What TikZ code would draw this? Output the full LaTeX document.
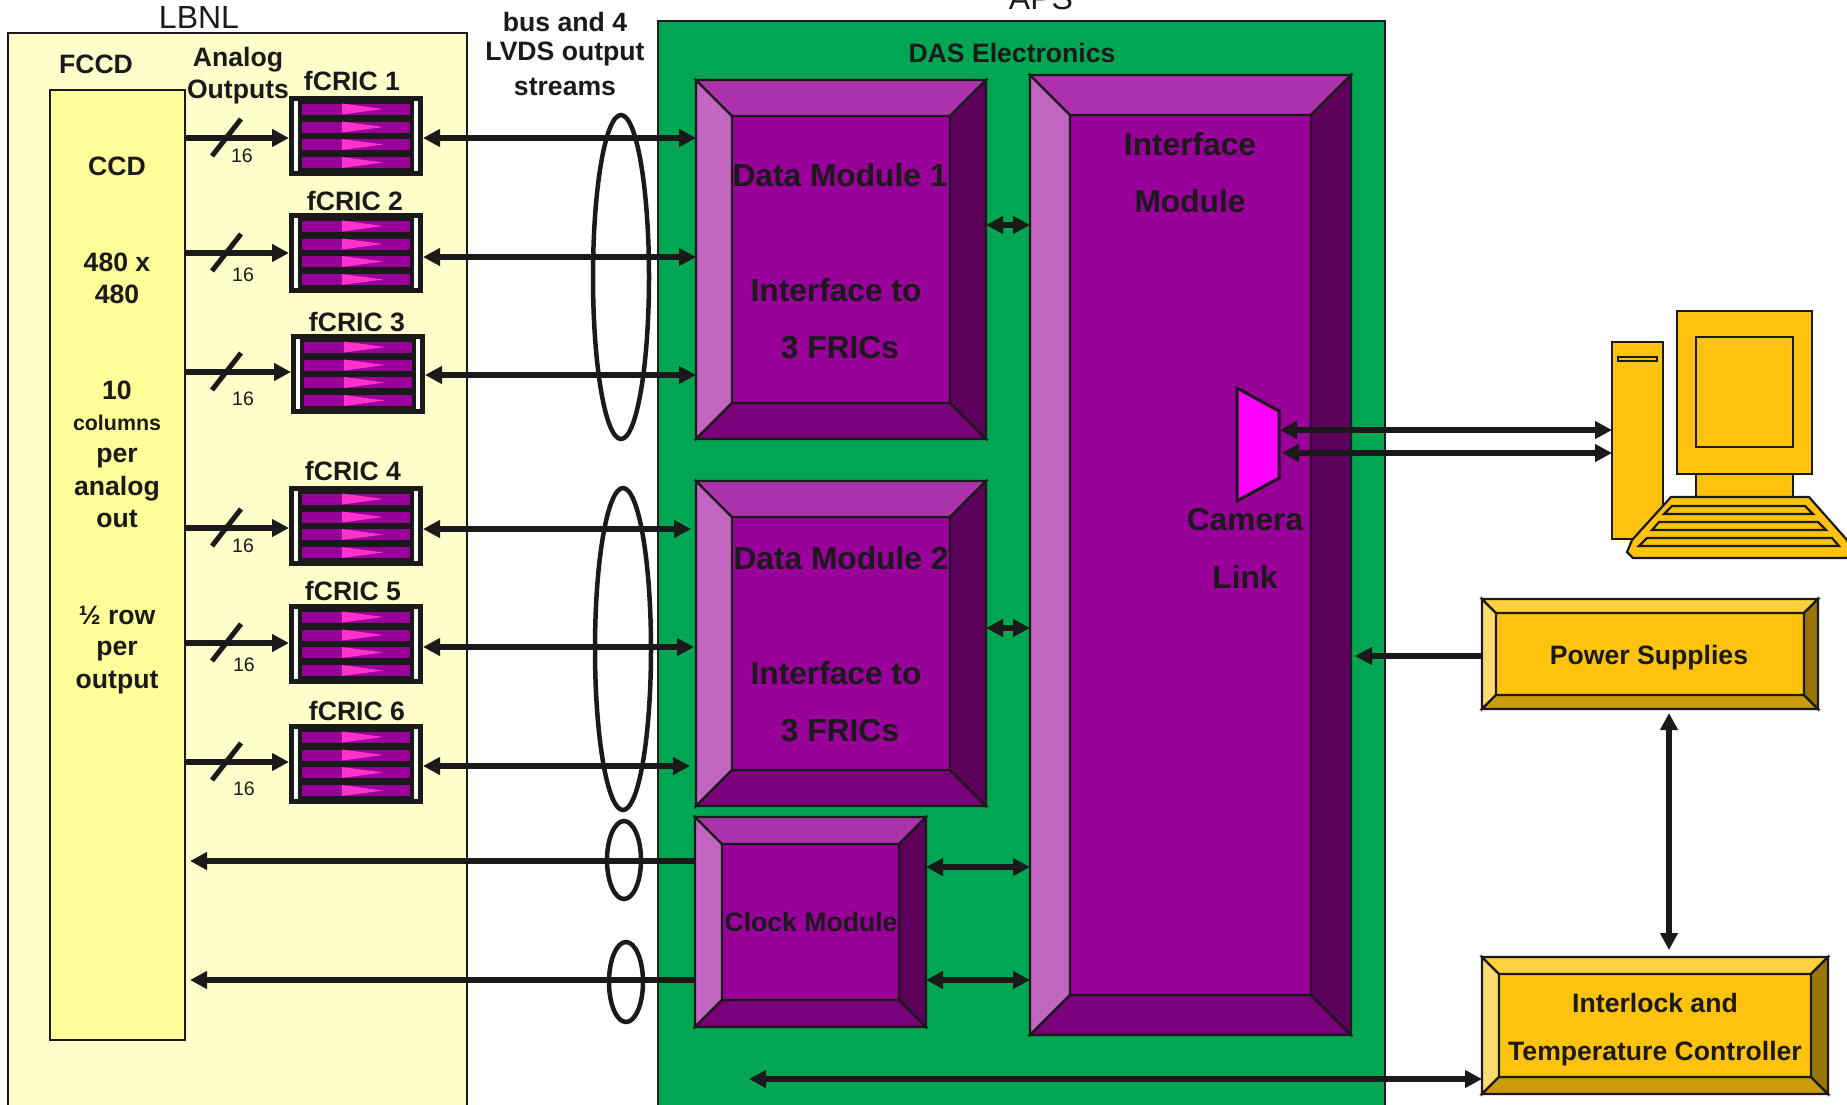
\documentclass[tikz,border=0pt]{standalone}
\usepackage{fontspec}
\setmainfont{Liberation Sans}
\usetikzlibrary{arrows.meta,positioning,shapes.geometric}
\definecolor{tinta}{HTML}{1A1A1A}
\definecolor{creme}{HTML}{FFFFCC}
\definecolor{amarelo}{HTML}{FFFF99}
\definecolor{verde}{HTML}{00A651}
\definecolor{purC}{HTML}{990099}
\definecolor{purL}{HTML}{C266C2}
\definecolor{purT}{HTML}{AD33AD}
\definecolor{purB}{HTML}{7A007A}
\definecolor{purR}{HTML}{5C005C}
\definecolor{ourC}{HTML}{FFC20E}
\definecolor{ourL}{HTML}{FFDA6E}
\definecolor{ourT}{HTML}{FFD040}
\definecolor{ourB}{HTML}{CC9B0B}
\definecolor{ourR}{HTML}{997408}
\definecolor{rosa}{HTML}{FF33CC}
\definecolor{camrosa}{HTML}{FF00FF}
\tikzset{
  lbl/.style={font=\fontsize{26.6pt}{28pt}\selectfont\bfseries, text=tinta, inner sep=0pt},
  lblbig/.style={font=\fontsize{31.7pt}{33pt}\selectfont\bfseries, text=tinta, inner sep=0pt},
  lblsmall/.style={font=\fontsize{21.4pt}{23pt}\selectfont\bfseries, text=tinta, inner sep=0pt},
  title/.style={font=\fontsize{32pt}{34pt}\selectfont, text=tinta, inner sep=0pt},
  wcount/.style={font=\fontsize{19.5pt}{21pt}\selectfont, text=tinta, inner sep=0pt},
  edge/.style={draw=tinta, line width=2.2pt, line join=miter},
  sq/.style={edge, rectangle, inner sep=0pt, outer sep=0pt},
  arr/.style={-{Triangle[length=17pt,width=17pt]}, line width=5.5pt, tinta},
  biarr/.style={{Triangle[length=17pt,width=17pt]}-{Triangle[length=17pt,width=17pt]}, line width=5.5pt, tinta},
  slash/.style={line width=5pt, tinta},
  loopb/.style={line width=4.5pt, tinta}
}
% box from its corners: options, name, x0, y0, x1, y1
\newcommand{\sqbox}[6]{
  \node[sq, #1, minimum width={(#5-#3)*1pt}, minimum height={(#6-#4)*1pt}] (#2) at ({(#3+#5)/2},{(#4+#6)/2}) {};
}
% bevelled block: colour prefix, name, x0, y0, x1, y1, depth
\newcommand{\bevel}[7]{
  \sqbox{fill=#1C}{#2}{#3}{#4}{#5}{#6}
  \draw[edge, fill=#1L] (#3,#4) -- ({#3+#7},{#4+#7}) -- ({#3+#7},{#6-#7}) -- (#3,#6) -- cycle;
  \draw[edge, fill=#1T] (#3,#4) -- (#5,#4) -- ({#5-#7},{#4+#7}) -- ({#3+#7},{#4+#7}) -- cycle;
  \draw[edge, fill=#1B] (#3,#6) -- (#5,#6) -- ({#5-#7},{#6-#7}) -- ({#3+#7},{#6-#7}) -- cycle;
  \draw[edge, fill=#1R] (#5,#4) -- (#5,#6) -- ({#5-#7},{#6-#7}) -- ({#5-#7},{#4+#7}) -- cycle;
}
% readout chip: name, x0, y0
\newcommand{\fcric}[3]{
  \node[rectangle, fill=tinta, inner sep=0pt, outer sep=0pt, minimum width=134pt, minimum height=80pt] (#1) at ({#2+67},{#3+40}) {};
  \fill[white] ({#2+4.7},{#3+4.5}) rectangle ({#2+9},{#3+75});
  \fill[white] ({#2+125},{#3+4.5}) rectangle ({#2+129.3},{#3+75});
  \foreach \s in {7.5,25.5,43,61}{
    \fill[purC] ({#2+13},{#3+\s}) rectangle ({#2+121},{#3+\s+11});
    \fill[rosa] ({#2+53},{#3+\s}) -- ({#2+94},{#3+\s+5.5}) -- ({#2+53},{#3+\s+11}) -- cycle;
  }
}
\begin{document}
\begin{tikzpicture}[x=1pt,y=-1pt]
\useasboundingbox (0,0) rectangle (1847,1104);
\clip (0,0) rectangle (1847,1104);
\sqbox{fill=creme}{lbnl}{8}{33}{467}{1115}
\sqbox{fill=verde}{aps}{658}{21}{1385}{1115}
\sqbox{fill=amarelo}{ccd}{50}{90}{185}{1040}
\bevel{pur}{dmone}{696}{80}{986}{439}{36}
\bevel{pur}{dmtwo}{696}{481}{986}{806}{36}
\bevel{pur}{clk}{695}{817}{926}{1027}{27}
\bevel{pur}{ifm}{1030}{75}{1351}{1035}{40}
\bevel{our}{psu}{1482}{599}{1818}{709}{14}
\bevel{our}{ilk}{1482}{957}{1828}{1094}{17}
\foreach \i/\x/\y in {1/289/96,2/289/213,3/291/334,4/289/486,5/289/604,6/289/724}{
  \fcric{fcric\i}{\x}{\y}
}
\draw[edge, line width=3pt, fill=camrosa] (1237,388) -- (1279,411) -- (1279,478) -- (1237,501) -- cycle;
\coordinate (cam) at (1280,440);
\coordinate (busend) at (749,1079);
% computer
\sqbox{fill=ourC}{tower}{1612}{342}{1663}{539}
\sqbox{fill=ourC}{slot}{1618}{357}{1657}{361}
\sqbox{fill=ourC}{neck}{1696}{470}{1793}{500}
\sqbox{fill=ourC}{monitor}{1677}{311}{1812}{474}
\sqbox{fill=ourC}{screen}{1696}{337}{1793}{447}
\draw[edge, fill=ourC] (1671,497) -- (1809,497) -- (1847,540) -- (1853,552) -- (1847,558) -- (1633,558) -- (1627,552) -- (1632,540) -- cycle;
\foreach \ya/\yb/\xa/\xb/\xc/\xd in {506/514/1672/1805/1664/1813,522/530/1659/1818/1652/1826,538/546/1647/1832/1639/1839}{
  \draw[edge, fill=ourC] (\xa,\ya) -- (\xb,\ya) -- (\xd,\yb) -- (\xc,\yb) -- cycle;
}
% signals
\foreach \i/\y in {1/138,2/253,3/372,4/528,5/643,6/762}{
  \draw[arr] (ccd.east |- 0,\y) -- (fcric\i.west |- 0,\y);
  \draw[slash] (226,\y) +(-14,18) -- +(15,-19);
}
\foreach \i/\m/\ya/\e in {1/dmone/138/0,2/dmone/257/0,3/dmone/375/0,4/dmtwo/529/5,5/dmtwo/647/2,6/dmtwo/766/6}{
  \draw[biarr, shorten >=\e pt] (fcric\i.east |- 0,\ya) -- (\m.west |- 0,\ya);
}
\foreach \m/\y in {dmone/225,dmtwo/628,clk/867,clk/980}{
  \draw[biarr] (\m.east |- 0,\y) -- (ifm.west |- 0,\y);
}
\foreach \y in {861,980}{
  \draw[arr, shorten >=5pt] (clk.west |- 0,\y) -- (ccd.east |- 0,\y);
}
\draw[biarr] (cam |- 0,430) -- (tower.west |- 0,430);
\draw[biarr] ([xshift=2pt]cam |- 0,453) -- (tower.west |- 0,453);
\draw[arr, shorten >=-4pt] (psu.west |- 0,656) -- ([xshift=8pt]ifm.east |- 0,656);
\draw[biarr, shorten <=4pt, shorten >=7pt] (psu.south -| 1669,0) -- (ilk.north -| 1669,0);
\draw[biarr] (busend) -- (ilk.west |- busend);
\draw[loopb] (621,277) ellipse (28 and 162);
\draw[loopb] (623,649) ellipse (28 and 161);
\draw[loopb] (624,860) ellipse (17 and 39);
\draw[loopb] (626,982) ellipse (17 and 40);
% labels
\foreach \nm/\x/\y in {lone/242/156,ltwo/243/275,lthree/243/399,lfour/243/546,lfive/244/665,lsix/244/789}{
  \node[wcount] (\nm) at (\x,\y) {16};
}
\node[title] (tlbnl) at (199,17) {LBNL};
\node[title, anchor=base] (taps) at (1041,9) {APS};
\foreach \nm/\x/\y/\t in {
  tfccd/96/64/FCCD, tccd/117/166/CCD, tsize/117/262/480 x, tsizeb/117/294/480,
  tten/117/390/10, tper/117/458/per, tana/117/489/analog, tout/117/519/out,
  trow/117/615/½ row, tperb/117/651/per, toutb/117/683/output,
  tanalog/238/60/Analog, toutputs/238/92/Outputs,
  tcrone/352/81/fCRIC 1, tcrtwo/355/201/fCRIC 2, tcrthree/357/322/fCRIC 3,
  tcrfour/353/471/fCRIC 4, tcrfive/353/591/fCRIC 5, tcrsix/357/711/fCRIC 6,
  tbus/565/22/bus and 4, tlvds/565/54/LVDS output, tstream/565/87/streams,
  tdas/1012/53/DAS Electronics, tclk/811/922/Clock Module,
  tpsu/1649/658/Power Supplies, tilk/1655/1003/Interlock and, ttemp/1655/1054/Temperature Controller}{
  \node[lbl] (\nm) at (\x,\y) {\t};
}
\node[lblsmall] (tcol) at (117,423) {columns};
\foreach \nm/\x/\y/\t in {
  tdmone/840/175/Data Module 1, tifone/836/290/Interface to, tfrone/840/348/3 FRICs,
  tdmtwo/841/558/Data Module 2, tiftwo/836/673/Interface to, tfrtwo/840/731/3 FRICs,
  tifm/1190/144/Interface, tmod/1190/201/Module, tcam/1245/520/Camera, tlink/1245/577/Link}{
  \node[lblbig] (\nm) at (\x,\y) {\t};
}
\end{tikzpicture}
\end{document}
